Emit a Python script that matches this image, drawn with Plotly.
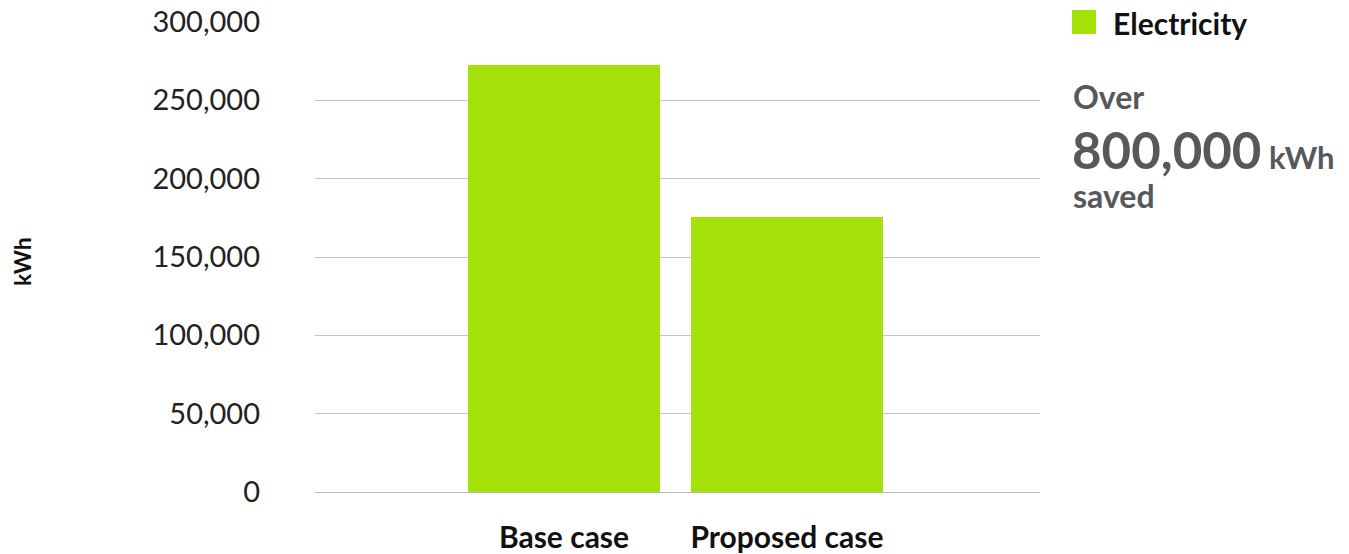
import plotly.graph_objects as go

categories = ["Base case", "Proposed case"]
values = [272500, 175500]
series_name = "Electricity"
bar_color = "#A4E20A"

W, H = 1349, 554
L, R, T, B = 315, 309, 22, 62
pw = W - L - R
ph = H - T - B

def px_x(x):
    return (x - L) / pw

def px_y(y):
    return (H - B - y) / ph

fig = go.Figure()
fig.add_trace(go.Bar(x=categories, y=values, name=series_name,
                     marker=dict(color=bar_color, line=dict(width=0)),
                     showlegend=False))

fig.update_layout(
    width=W, height=H,
    margin=dict(l=L, r=R, t=T, b=B, pad=0, autoexpand=False),
    paper_bgcolor="white", plot_bgcolor="white",
    bargap=0.139,
    font=dict(family="Lato", color="#222222"),
    xaxis=dict(type="category", range=[-1.1166, 2.1345], showgrid=False,
               showline=False, zeroline=False, ticks="", automargin=False,
               tickfont=dict(family="Lato", size=30, color="#111111", weight="bold"),
               ticklabelstandoff=25),
    yaxis=dict(range=[0, 300000], dtick=50000, tickformat=",",
               showgrid=True, gridcolor="#C4C4C4", gridwidth=1,
               zeroline=True, zerolinecolor="#B8B8B8", zerolinewidth=1,
               showline=False, ticks="", automargin=False,
               tickfont=dict(family="Lato", size=29, color="#222222"),
               ticklabelstandoff=54),
)

# y-axis title
fig.add_annotation(text="kWh", xref="paper", yref="paper",
                   x=px_x(22), y=px_y(262), textangle=-90, showarrow=False,
                   font=dict(family="Lato", size=23, color="#111111", weight="bold"),
                   xanchor="center", yanchor="middle")

# manual legend
fig.add_shape(type="rect", xref="paper", yref="paper",
              x0=px_x(1072), x1=px_x(1096), y0=px_y(34), y1=px_y(10),
              fillcolor=bar_color, line=dict(width=0))
fig.add_annotation(text=series_name, xref="paper", yref="paper",
                   x=px_x(1111), y=px_y(23), showarrow=False,
                   xanchor="left", yanchor="middle",
                   font=dict(family="Lato", size=30, color="#111111", weight="bold"))

grey = "#56595C"
fig.add_annotation(text="Over", xref="paper", yref="paper",
                   x=px_x(1071), y=px_y(97), showarrow=False,
                   xanchor="left", yanchor="middle",
                   font=dict(family="Lato", size=32, color=grey, weight="bold"))
fig.add_annotation(text="800,000<span style='font-size:31px'> kWh</span>",
                   xref="paper", yref="paper",
                   x=px_x(1070), y=px_y(150), showarrow=False,
                   xanchor="left", yanchor="middle",
                   font=dict(family="Lato", size=51, color=grey, weight="bold"))
fig.add_annotation(text="saved", xref="paper", yref="paper",
                   x=px_x(1071), y=px_y(195), showarrow=False,
                   xanchor="left", yanchor="middle",
                   font=dict(family="Lato", size=32, color=grey, weight="bold"))

fig.write_html("out.html")
